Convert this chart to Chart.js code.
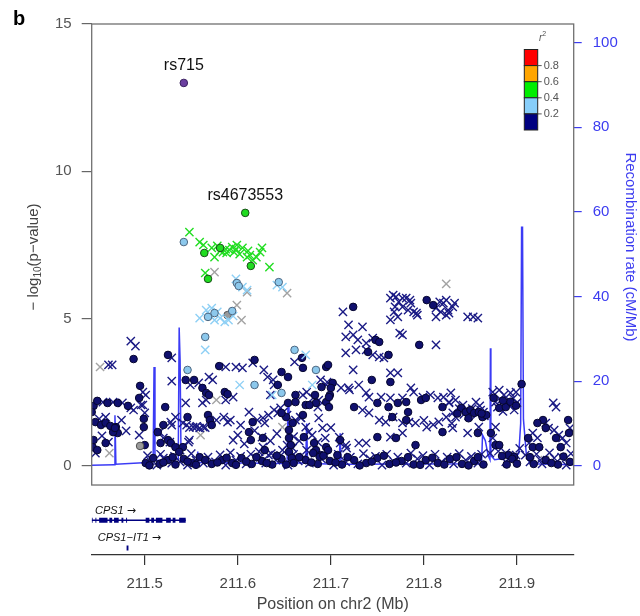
<!DOCTYPE html>
<html>
<head>
<meta charset="utf-8">
<title>CPS1 regional association</title>
<script src="https://cdn.jsdelivr.net/npm/chart.js@4.4.1/dist/chart.umd.min.js"></script>
<style>
  html, body { margin: 0; padding: 0; background: #fff; }
</style>
</head>
<body>
<canvas id="myChart" width="640" height="616"></canvas>
<script>
// ---- data (position on chr2 in Mb, -log10 p) ----
const indexSnp = [[211.542, 13.0]];
const snpLabels = ['rs715', 'rs4673553'];
const snpLabelAt = [[211.542, 13.0], [211.608, 8.59]];

const greenCircles = [[211.608,8.59],[211.564,7.23],[211.581,7.40],[211.614,6.79],[211.568,6.35]];
const greenCrosses = [[211.548,7.94],[211.559,7.60],[211.563,7.50],[211.572,7.40],[211.575,7.09],[211.581,7.30],[211.584,7.26],
  [211.588,7.23],[211.594,7.43],[211.596,7.26],[211.599,7.50],[211.602,7.19],[211.605,7.40],[211.610,7.09],[211.613,7.16],
  [211.616,6.99],[211.620,7.09],[211.624,7.26],[211.626,7.40],[211.634,6.75],[211.565,6.55],[211.591,7.33],[211.598,7.36],
  [211.578,7.47],[211.587,7.36],[211.611,7.30]];

const blueCircles = [[211.542,7.60],[211.599,6.21],[211.601,6.11],[211.644,6.24],[211.575,5.19],[211.568,5.06],[211.594,5.26],
  [211.565,4.38],[211.661,3.94],[211.684,3.26],[211.618,2.75],[211.647,2.48],[211.546,3.26]];
const blueCrosses = [[211.598,6.35],[211.605,6.07],[211.610,5.97],[211.642,6.14],[211.648,6.07],[211.566,5.29],[211.570,5.12],
  [211.575,4.95],[211.581,5.02],[211.586,4.89],[211.590,4.95],[211.572,5.36],[211.595,5.09],[211.565,3.94],[211.673,3.77],
  [211.602,2.75],[211.637,2.41],[211.680,2.75],[211.559,5.02],[211.578,5.23]];

const grayCircles = [[211.495,0.68],[211.589,5.12]];
const grayCrosses = [[211.575,6.58],[211.610,5.90],[211.653,5.87],[211.599,5.46],[211.604,4.95],[211.824,6.18],[211.452,3.36],
  [211.462,0.44],[211.560,1.05],[211.577,2.24],[211.648,1.32],[211.892,0.37],[211.930,0.20]];

const navyCircles = [
  [211.488,3.63],[211.525,3.77],[211.495,2.72],[211.494,2.31],[211.445,2.04],[211.449,2.21],[211.460,2.14],[211.471,2.14],
  [211.482,2.04],[211.447,1.49],[211.453,1.39],[211.458,1.46],[211.463,1.36],[211.469,1.32],[211.471,1.12],[211.522,2.00],
  [211.499,1.60],[211.499,1.32],[211.514,1.15],[211.520,1.39],[211.544,2.92],[211.553,2.92],[211.562,2.65],[211.566,2.48],
  [211.546,1.66],[211.568,1.73],[211.445,0.88],[211.444,0.64],[211.449,0.54],[211.458,0.78],[211.500,0.71],[211.517,0.78],
  [211.525,0.88],[211.528,0.78],[211.533,0.64],[211.541,0.64],[211.537,0.48],[211.466,1.15],[211.468,1.29],[211.570,1.56],
  [211.572,1.39],[211.569,2.41],[211.586,2.51],[211.589,2.44],[211.580,3.39],[211.443,1.83],
  [211.618,3.60],[211.669,3.67],[211.670,3.33],[211.695,3.36],[211.647,3.19],[211.654,3.02],[211.643,2.75],[211.662,2.41],
  [211.683,2.41],[211.699,2.41],[211.702,2.82],[211.690,2.68],[211.654,2.14],[211.662,2.17],[211.673,2.07],[211.684,2.14],
  [211.695,2.17],[211.698,2.00],[211.677,2.07],[211.616,1.49],[211.652,1.66],[211.655,1.22],[211.612,1.15],[211.614,0.88],
  [211.627,0.95],[211.655,0.95],[211.657,0.71],[211.655,0.48],[211.647,1.80],[211.659,1.46],[211.670,1.73],[211.671,0.98],
  [211.682,0.78],[211.684,0.54],[211.695,0.64],[211.689,0.37],[211.629,0.54],[211.658,0.27],[211.681,0.44],[211.688,0.31],
  [211.697,0.54],[211.707,0.37],
  [211.724,5.40],[211.803,5.63],[211.810,5.46],[211.748,4.28],[211.752,4.21],[211.740,3.87],[211.762,3.77],[211.795,4.11],
  [211.697,3.43],[211.744,2.92],[211.764,2.85],[211.700,2.65],[211.698,2.34],[211.725,2.00],[211.750,2.14],[211.762,2.00],
  [211.772,2.14],[211.781,2.17],[211.783,1.83],[211.797,2.24],[211.802,2.31],[211.820,2.00],[211.750,0.98],[211.770,0.95],
  [211.791,0.71],[211.820,1.15],[211.710,0.88],[211.766,1.66],[211.781,1.56],
  [211.840,1.97],[211.845,1.83],[211.850,1.90],[211.854,1.80],[211.859,1.83],[211.863,1.66],[211.858,1.12],[211.875,2.31],
  [211.881,1.97],[211.888,2.00],[211.905,2.78],[211.872,1.12],[211.877,0.71],[211.881,0.71],[211.891,0.37],[211.897,0.31],
  [211.928,1.56],[211.922,1.46],[211.931,1.29],[211.942,0.95],[211.947,0.64],[211.955,1.56],[211.956,1.12],[211.917,0.64],
  [211.924,0.64],[211.912,0.95],[211.867,1.73],
  [211.836,1.78],[211.848,1.62],[211.862,1.78],[211.885,2.22],[211.893,2.18],[211.899,2.05],
  [211.501,0.10],[211.509,0.27],[211.516,0.07],[211.525,0.20],[211.533,0.05],[211.542,0.24],[211.551,0.10],[211.559,0.30],
  [211.572,0.07],[211.583,0.20],[211.594,0.10],[211.604,0.27],[211.615,0.07],[211.626,0.17],[211.637,0.05],[211.647,0.24],
  [211.660,0.10],[211.673,0.20],[211.686,0.07],[211.699,0.17],[211.712,0.05],[211.725,0.20],[211.738,0.10],[211.750,0.27],
  [211.763,0.07],[211.776,0.17],[211.789,0.05],[211.802,0.20],[211.815,0.10],[211.828,0.24],[211.841,0.07],[211.854,0.17],
  [211.864,0.05],[211.884,0.34],[211.895,0.24],[211.918,0.07],[211.931,0.20],[211.944,0.05],[211.957,0.14],
  [211.505,0.02],[211.520,0.12],[211.530,0.30],[211.546,0.15],[211.555,0.04],[211.565,0.20],[211.578,0.12],[211.588,0.28],
  [211.598,0.04],[211.609,0.15],[211.620,0.30],[211.631,0.10],[211.642,0.35],[211.652,0.05],[211.666,0.30],[211.679,0.12],
  [211.692,0.35],[211.705,0.12],[211.718,0.30],[211.731,0.02],[211.744,0.15],[211.757,0.35],[211.770,0.12],[211.783,0.30],
  [211.796,0.04],[211.809,0.28],[211.822,0.05],[211.835,0.30],[211.848,0.02],[211.858,0.30],[211.889,0.05],[211.900,0.08],
  [211.914,0.30],[211.937,0.10],[211.950,0.32]];

const navyCrosses = [
  [211.485,4.24],[211.490,4.07],[211.461,3.43],[211.465,3.43],[211.529,3.67],[211.529,2.88],[211.498,2.51],[211.501,2.41],
  [211.498,2.07],[211.455,2.17],[211.466,2.17],[211.476,2.14],[211.485,1.97],[211.488,1.90],[211.458,1.66],[211.480,1.19],
  [211.528,1.49],[211.533,1.66],[211.541,1.46],[211.544,2.14],[211.549,2.75],[211.558,2.82],[211.555,1.32],[211.559,1.29],
  [211.563,1.32],[211.552,1.32],[211.545,1.39],[211.447,0.44],[211.461,0.81],[211.494,1.05],[211.520,0.95],[211.547,0.81],
  [211.566,2.24],[211.562,2.14],[211.529,1.39],[211.516,1.15],[211.527,0.81],[211.538,0.54],[211.548,0.88],[211.496,2.07],
  [211.500,1.80],[211.451,1.60],[211.454,1.02],[211.475,1.56],[211.548,1.30],[211.556,1.35],[211.565,1.30],
  [211.616,3.50],[211.587,3.36],[211.598,3.36],[211.605,3.33],[211.628,3.26],[211.632,3.02],[211.638,2.92],[211.639,2.75],
  [211.569,3.02],[211.573,2.92],[211.635,2.41],[211.595,2.34],[211.587,2.24],[211.670,2.41],[211.681,2.31],[211.687,2.24],
  [211.674,2.51],[211.696,2.85],[211.720,2.58],[211.585,1.66],[211.589,1.49],[211.592,1.56],[211.603,1.39],[211.612,1.83],
  [211.621,1.56],[211.627,1.63],[211.633,1.73],[211.639,1.90],[211.643,1.80],[211.646,1.97],[211.649,1.83],[211.662,1.56],
  [211.668,1.63],[211.673,1.32],[211.676,1.15],[211.687,1.63],[211.691,1.29],[211.629,1.46],[211.653,1.73],[211.667,1.66],
  [211.686,2.00],[211.595,0.88],[211.623,0.48],[211.633,0.37],[211.626,0.98],[211.627,0.64],[211.648,0.54],[211.653,0.71],
  [211.659,0.61],[211.674,0.54],[211.686,0.81],[211.710,0.78],[211.717,0.61],[211.689,2.92],[211.695,2.75],[211.577,1.56],
  [211.661,3.53],[211.600,1.05],[211.607,0.75],[211.618,1.20],[211.635,0.85],[211.642,1.10],[211.660,1.00],[211.666,0.85],
  [211.680,1.05],[211.694,0.95],[211.700,1.30],
  [211.713,5.23],[211.764,5.70],[211.770,5.74],[211.773,5.57],[211.781,5.70],[211.786,5.53],[211.783,5.29],[211.789,5.23],
  [211.768,5.23],[211.764,4.96],[211.772,5.06],[211.793,5.12],[211.777,5.40],[211.767,5.80],[211.777,5.70],[211.785,5.63],
  [211.769,5.40],[211.792,5.19],[211.774,4.51],[211.777,4.45],[211.813,5.36],[211.818,5.23],[211.824,5.12],[211.813,5.06],
  [211.821,5.53],[211.817,5.57],[211.826,5.29],[211.833,5.53],[211.719,4.79],[211.734,4.72],[211.716,4.38],[211.724,4.45],
  [211.729,4.28],[211.738,4.17],[211.745,4.34],[211.727,3.94],[211.738,3.94],[211.745,3.77],[211.752,3.70],[211.757,3.67],
  [211.716,3.84],[211.813,4.11],[211.724,3.26],[211.764,3.16],[211.772,3.16],[211.711,2.65],[211.719,2.65],[211.730,2.75],
  [211.738,2.48],[211.741,2.34],[211.754,2.34],[211.764,2.31],[211.777,2.31],[211.786,2.65],[211.789,2.51],[211.799,2.34],
  [211.807,2.41],[211.815,2.31],[211.821,2.34],[211.827,2.17],[211.734,1.90],[211.741,1.80],[211.752,1.56],[211.759,1.49],
  [211.767,1.66],[211.777,1.46],[211.784,1.49],[211.791,1.46],[211.824,1.66],[211.803,1.32],[211.777,1.12],[211.764,0.98],
  [211.709,0.98],[211.730,0.78],[211.738,0.78],[211.716,0.71],[211.800,1.55],[211.810,1.40],[211.816,1.50],[211.830,1.45],
  [211.824,5.63],[211.831,5.40],[211.827,5.19],[211.847,5.06],[211.853,5.06],[211.858,5.02],[211.829,2.48],[211.834,2.24],
  [211.827,2.14],[211.842,2.07],[211.856,2.17],[211.860,2.04],[211.864,1.83],[211.831,1.80],[211.834,1.66],[211.831,1.29],
  [211.847,1.12],[211.859,1.32],[211.874,2.51],[211.881,2.58],[211.886,2.41],[211.893,2.48],[211.899,2.51],[211.877,2.17],
  [211.890,2.14],[211.897,1.90],[211.883,2.24],[211.877,1.32],[211.874,0.95],[211.888,0.44],[211.893,0.31],[211.899,0.37],
  [211.939,2.14],[211.942,2.00],[211.931,1.46],[211.934,1.29],[211.940,1.22],[211.945,1.05],[211.949,0.95],[211.917,1.12],
  [211.922,0.95],[211.953,0.78],[211.913,0.78],[211.957,1.29],[211.909,0.37],[211.925,0.20],
  [211.838,1.95],[211.843,1.75],[211.848,1.70],[211.852,1.95],[211.857,1.75],[211.861,1.90],[211.865,1.70],
  [211.879,2.00],[211.885,1.85],[211.892,2.05],[211.896,2.30],[211.900,2.15],
  [211.506,0.17],[211.513,0.03],[211.520,0.27],[211.529,0.10],[211.538,0.14],[211.546,0.03],[211.555,0.20],[211.563,0.10],
  [211.576,0.14],[211.587,0.03],[211.598,0.20],[211.609,0.07],[211.619,0.27],[211.630,0.10],[211.641,0.20],[211.654,0.03],
  [211.665,0.17],[211.677,0.10],[211.690,0.24],[211.703,0.03],[211.716,0.14],[211.729,0.07],[211.742,0.24],[211.755,0.03],
  [211.768,0.14],[211.781,0.10],[211.793,0.24],[211.806,0.03],[211.819,0.14],[211.832,0.07],[211.845,0.20],[211.858,0.10],
  [211.871,0.44],[211.888,0.14],[211.914,0.14],[211.927,0.07],[211.940,0.27],[211.953,0.03],
  [211.503,0.35],[211.517,0.40],[211.532,0.33],[211.550,0.42],[211.568,0.30],[211.581,0.38],[211.592,0.45],[211.603,0.33],
  [211.614,0.40],[211.624,0.30],[211.636,0.42],[211.646,0.35],[211.660,0.40],[211.671,0.30],[211.683,0.44],[211.695,0.35],
  [211.708,0.40],[211.721,0.30],[211.735,0.42],[211.748,0.33],[211.760,0.40],[211.772,0.30],[211.786,0.44],[211.799,0.35],
  [211.812,0.40],[211.825,0.30],[211.838,0.42],[211.851,0.33],[211.862,0.40],[211.880,0.50],[211.903,0.60],[211.921,0.40],
  [211.935,0.45],[211.948,0.30],[211.958,0.42]];

// recombination rate (cM/Mb)
const recombRate = [[211.443,0.2],[211.467,0.3],[211.468,12.0],[211.469,0.4],[211.503,0.8],[211.509,1.2],[211.510,23.4],
  [211.511,1.3],[211.536,1.6],[211.537,32.7],[211.538,25.0],[211.539,2.0],[211.556,1.0],[211.557,3.4],[211.558,0.8],
  [211.653,0.6],[211.654,15.6],[211.655,0.7],[211.673,0.7],[211.674,10.0],[211.675,0.6],[211.709,0.4],[211.710,7.7],
  [211.711,0.4],[211.862,0.5],[211.863,7.3],[211.866,6.0],[211.869,2.5],[211.871,1.5],[211.8715,27.8],[211.872,2.5],
  [211.876,1.5],[211.887,1.8],[211.898,1.8],[211.902,3.0],[211.904,10.0],[211.905,56.4],[211.906,56.4],[211.907,11.0],
  [211.910,3.0],[211.914,0.5],[211.961,0.3]];

// genes
const geneNames = ['CPS1', 'CPS1\u2212IT1'];
const geneRows = [-1.84, -2.78];
const cps1Span = [211.443, 211.544];
const cps1Exons = [[211.443,211.444],[211.447,211.448],[211.451,211.460],[211.462,211.465],[211.467,211.472],
  [211.475,211.477],[211.480,211.481],[211.501,211.505],[211.507,211.510],[211.512,211.519],[211.523,211.528],
  [211.530,211.533],[211.537,211.544]];
const itExons = [[211.4805, 211.4825]];

// axes + legend
const xTicks = [211.5, 211.6, 211.7, 211.8, 211.9];
const yTicks = [0, 5, 10, 15];
const recombTicks = [0, 20, 40, 60, 80, 100];
const r2Breaks = ['0.8', '0.6', '0.4', '0.2'];
const r2Colors = ['#ff0000', '#ffa500', '#00ee00', '#87cefa', '#000080'];
const boxFloor = -0.645;

const FONT = '"Liberation Sans", Arial, Helvetica, sans-serif';
const pts = arr => arr.map(p => ({x: p[0], y: p[1]}));

function exonLine(exons, row) {
  const out = [];
  exons.forEach(e => { out.push({x: e[0], y: row}, {x: e[1], y: row}, {x: e[1], y: null}); });
  return out;
}

const decor = {
  id: 'decor',
  afterDatasetsDraw(chart) {
    const ctx = chart.ctx, a = chart.chartArea;
    const x = chart.scales.x, y = chart.scales.y;
    ctx.save();
    // plot box
    const bb = y.getPixelForValue(boxFloor);
    ctx.strokeStyle = '#707070';
    ctx.lineWidth = 1.3;
    ctx.strokeRect(a.left, a.top, a.right - a.left, bb - a.top);

    // snp labels
    ctx.fillStyle = '#111';
    ctx.font = '16px ' + FONT;
    ctx.textAlign = 'center';
    ctx.textBaseline = 'middle';
    snpLabels.forEach((name, i) => {
      ctx.fillText(name, x.getPixelForValue(snpLabelAt[i][0]), y.getPixelForValue(snpLabelAt[i][1]) - 17);
    });

    // r2 colour bar
    const lx = 524.3, lw = 13.4, top = 49.5, step = 16.1;
    r2Colors.forEach((c, i) => {
      ctx.fillStyle = c;
      ctx.fillRect(lx, top + i * step, lw, step);
      ctx.strokeStyle = '#222';
      ctx.lineWidth = 1;
      ctx.strokeRect(lx, top + i * step, lw, step);
    });
    ctx.fillStyle = '#555';
    ctx.strokeStyle = '#555';
    ctx.font = '11px ' + FONT;
    ctx.textAlign = 'left';
    r2Breaks.forEach((t, i) => {
      const yy = top + (i + 1) * step;
      ctx.beginPath();
      ctx.moveTo(lx + lw, yy);
      ctx.lineTo(lx + lw + 4, yy);
      ctx.stroke();
      ctx.fillText(t, lx + lw + 6, yy);
    });
    ctx.font = 'italic 10px ' + FONT;
    ctx.textAlign = 'center';
    ctx.fillText('r', lx + lw + 3, 38);
    ctx.font = '7px ' + FONT;
    ctx.fillText('2', lx + lw + 6.5, 34);

    // gene labels
    ctx.fillStyle = '#111';
    ctx.font = 'italic 11px ' + FONT;
    ctx.textAlign = 'left';
    const gx = [x.getPixelForValue(211.4465), x.getPixelForValue(211.4495)];
    geneNames.forEach((g, i) => {
      const gy = y.getPixelForValue(geneRows[i]) - 9.5;
      ctx.fillText(g, gx[i], gy);
      const w = ctx.measureText(g).width;
      ctx.font = '11px "DejaVu Sans", sans-serif';
      ctx.fillText('\u2192', gx[i] + w + 3, gy);
      ctx.font = 'italic 11px ' + FONT;
    });

    // axis titles
    ctx.fillStyle = '#444';
    ctx.font = '16px ' + FONT;
    ctx.textAlign = 'center';
    ctx.fillText('Position on chr2 (Mb)', (a.left + a.right) / 2, 605);

    ctx.save();
    ctx.translate(34, 257);
    ctx.rotate(-Math.PI / 2);
    const p1 = '\u2212 log', p3 = '(p\u2212value)';
    ctx.font = '15px ' + FONT;
    const w1 = ctx.measureText(p1).width, w3 = ctx.measureText(p3).width;
    ctx.font = '10px ' + FONT;
    const w2 = ctx.measureText('10').width;
    const sx = -(w1 + w2 + w3) / 2;
    ctx.textAlign = 'left';
    ctx.font = '15px ' + FONT;
    ctx.fillText(p1, sx, 0);
    ctx.font = '10px ' + FONT;
    ctx.fillText('10', sx + w1, 4);
    ctx.font = '15px ' + FONT;
    ctx.fillText(p3, sx + w1 + w2, 0);
    ctx.restore();

    ctx.save();
    ctx.translate(630, 247);
    ctx.rotate(Math.PI / 2);
    ctx.fillStyle = '#3c3cf0';
    ctx.font = '15px ' + FONT;
    ctx.textAlign = 'center';
    ctx.fillText('Recombination rate (cM/Mb)', 0, 0);
    ctx.restore();

    // panel letter
    ctx.fillStyle = '#000';
    ctx.font = 'bold 20px ' + FONT;
    ctx.textAlign = 'left';
    ctx.fillText('b', 13, 19);
    ctx.restore();
  }
};

const crossDs = (label, data, color, order) => ({
  label, data: pts(data), pointStyle: 'crossRot', pointRadius: 5.8, borderColor: color,
  backgroundColor: color, pointBorderWidth: 1.4, order
});
const circleDs = (label, data, fill, edge, order) => ({
  label, data: pts(data), pointStyle: 'circle', pointRadius: 3.8, backgroundColor: fill,
  borderColor: edge, pointBorderWidth: 1, order
});

const ctx = document.getElementById('myChart').getContext('2d');
new Chart(ctx, {
  type: 'scatter',
  data: {
    datasets: [
      {label: 'recomb', data: pts(recombRate), yAxisID: 'y2', showLine: true, borderColor: '#3b3bf5',
        borderWidth: 1.5, pointRadius: 0, tension: 0, order: 20},
      crossDs('gray x', grayCrosses, '#a3a3a3', 12),
      crossDs('navy x', navyCrosses, '#1b1b85', 11),
      circleDs('navy o', navyCircles, '#10106e', '#05052e', 10),
      circleDs('gray o', grayCircles, '#9a9a9a', '#505050', 9),
      crossDs('blue x', blueCrosses, '#8fd0f5', 8),
      circleDs('blue o', blueCircles, '#8cc8ec', '#4c6680', 7),
      crossDs('green x', greenCrosses, '#22dd22', 6),
      circleDs('green o', greenCircles, '#1fdc1f', '#1a4d1a', 5),
      circleDs('index', indexSnp, '#6b3fa0', '#3a2060', 4),
      {label: 'CPS1', data: pts([[cps1Span[0], geneRows[0]], [cps1Span[1], geneRows[0]]]), showLine: true,
        borderColor: '#000080', borderWidth: 1.3, pointRadius: 0, order: 3},
      {label: 'CPS1 exons', data: exonLine(cps1Exons, geneRows[0]), showLine: true, spanGaps: false,
        borderColor: '#000080', borderWidth: 5, borderCapStyle: 'butt', pointRadius: 0, order: 2},
      {label: 'CPS1-IT1', data: exonLine(itExons, geneRows[1]), showLine: true, spanGaps: false,
        borderColor: '#000080', borderWidth: 5, borderCapStyle: 'butt', pointRadius: 0, order: 2}
    ]
  },
  options: {
    responsive: false,
    animation: false,
    layout: {padding: {top: 24, left: 0, right: 0, bottom: 0}},
    plugins: {legend: {display: false}, tooltip: {enabled: false}},
    scales: {
      x: {
        type: 'linear', min: 211.443, max: 211.961,
        afterBuildTicks: s => { s.ticks = xTicks.map(v => ({value: v})); },
        afterFit: s => { s.height = 61; },
        border: {display: true, color: '#333', width: 1.2},
        grid: {drawOnChartArea: false, tickLength: 10, color: '#333', lineWidth: 1.2},
        ticks: {color: '#444', font: {size: 15, family: FONT}, padding: 10, callback: v => v.toFixed(1)}
      },
      y: {
        position: 'left', min: -3.02, max: 15,
        afterBuildTicks: s => { s.ticks = yTicks.map(v => ({value: v})); },
        afterFit: s => { s.width = 91.7; },
        border: {display: false},
        grid: {drawOnChartArea: false, tickLength: 10, color: '#666', lineWidth: 1.2},
        ticks: {color: '#555', font: {size: 15, family: FONT}, padding: 10}
      },
      y2: {
        position: 'right', min: -21.02, max: 104.37,
        afterBuildTicks: s => { s.ticks = recombTicks.map(v => ({value: v})); },
        afterFit: s => { s.width = 66.3; },
        border: {display: false},
        grid: {drawOnChartArea: false, tickLength: 8, color: '#3c3cf0', lineWidth: 1.2},
        ticks: {color: '#3c3cf0', font: {size: 15, family: FONT}, padding: 11}
      }
    }
  },
  plugins: [decor]
});
</script>
</body>
</html>
